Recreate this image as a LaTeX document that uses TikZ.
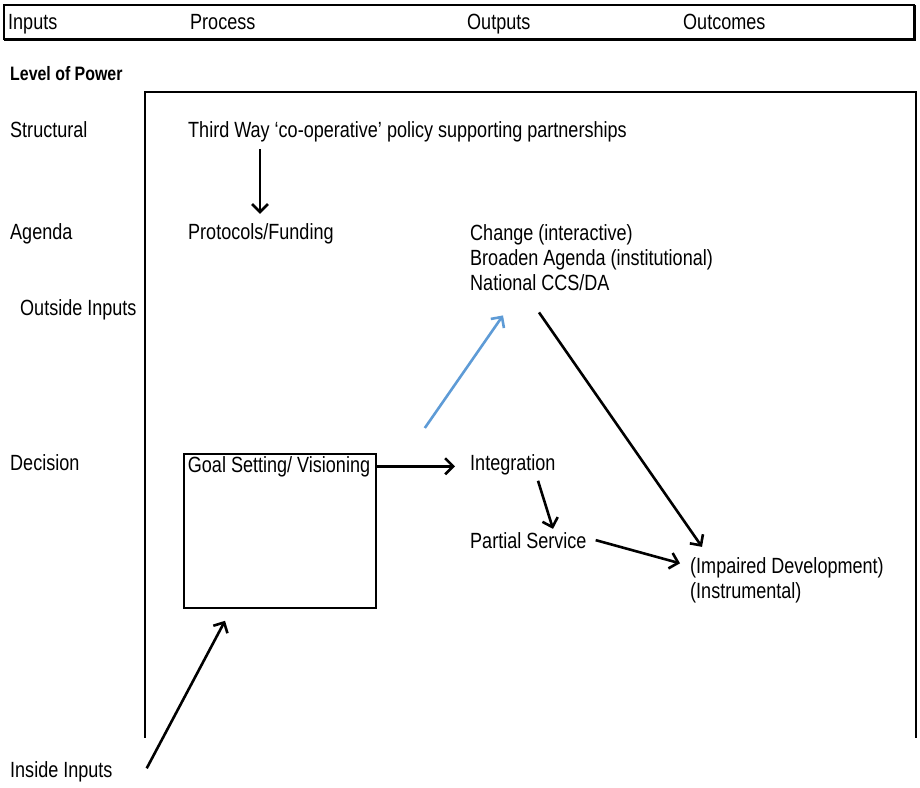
\documentclass[tikz,border=0pt]{standalone}
\usepackage{fontspec}
\setmainfont{Liberation Sans}[FakeStretch=0.82]
\usetikzlibrary{arrows.meta,calc}
\definecolor{arrowblue}{RGB}{94,155,214}
\tikzset{
  lbl/.style={inner sep=0pt, anchor=base west, font=\fontsize{22}{25}\selectfont},
  headlbl/.style={lbl, font=\bfseries\fontsize{19.4}{22}\selectfont},
  frame/.style={line width=2pt, line cap=rect},
  arr/.style={line width=2.6pt, -{Straight Barb[length=8pt,width=16pt]}},
  bluearr/.style={arr, color=arrowblue},
}
\begin{document}
\begin{tikzpicture}[x=1pt, y=-1pt]
\useasboundingbox (0,0) rectangle (920,787);

% header strip
\draw[line width=1.4pt] (4,5) rectangle (914,39);
\draw[line width=3pt] (4,39) -- (914,39) -- (914,5);
\node[lbl] (hin)  at (8,29)   {Inputs};
\node[lbl] (hpr)  at (190,29) {Process};
\node[lbl] (hou)  at (467,29) {Outputs};
\node[lbl] (hoc)  at (683,29) {Outcomes};

\node[headlbl] (lvl) at (10,80) {Level of Power};

% open frame
\draw[frame] (145,737) -- (145,92) -- (916,92) -- (916,737);

% power levels
\node[lbl] (structural) at (10,137) {Structural};
\node[lbl] (agenda)     at (10,239) {Agenda};
\node[lbl] (outside)    at (20,315) {Outside Inputs};
\node[lbl] (decision)   at (10,470) {Decision};
\node[lbl] (inside)     at (10,777) {Inside Inputs};

% contents
\node[lbl] (third) at (188,137) {Third Way ‘co-operative’ policy supporting partnerships};
\node[lbl] (proto) at (188,239) {Protocols/Funding};
\node[lbl] (change)   at (470,240) {Change (interactive)};
\node[lbl] (broaden)  at (470,265) {Broaden Agenda (institutional)};
\node[lbl] (national) at (470,290) {National CCS/DA};
\node[draw, line width=1.8pt, inner sep=0pt, minimum width=192pt, minimum height=154pt,
      anchor=north west] (goal) at (183,453) {};
\node[lbl, anchor=base] (goaltxt) at (279,472) {Goal Setting/ Visioning};
\node[lbl] (integ)    at (470,470) {Integration};
\node[lbl] (part)     at (470,548) {Partial Service};
\node[lbl] (impaired) at (690,573) {(Impaired Development)};
\node[lbl] (instr)    at (690,598) {(Instrumental)};

% connectors
\draw[arr] ([shift={(72,7)}]third.south west) -- ([shift={(72,-9)}]proto.north west);
\draw[arr, shorten >=15pt] (goaltxt.east -| goal.east) -- (goaltxt.east -| integ.west);
\draw[arr] ([shift={(68,6)}]integ.south west) -- ([shift={(83,-3)}]part.north west);
\draw[arr] ([xshift=9pt]part.east) -- ([shift={(-10,-4)}]impaired.west);
\draw[arr] ([shift={(69,22)}]national.south west) -- ([shift={(12,-10)}]impaired.north west);
\draw[bluearr] ([shift={(48,-25)}]goal.north east) -- ([shift={(33,25)}]national.south west);
\draw[arr] ([shift={(34,-3)}]inside.east) -- ([shift={(42,12)}]goal.south west);
\end{tikzpicture}
\end{document}
